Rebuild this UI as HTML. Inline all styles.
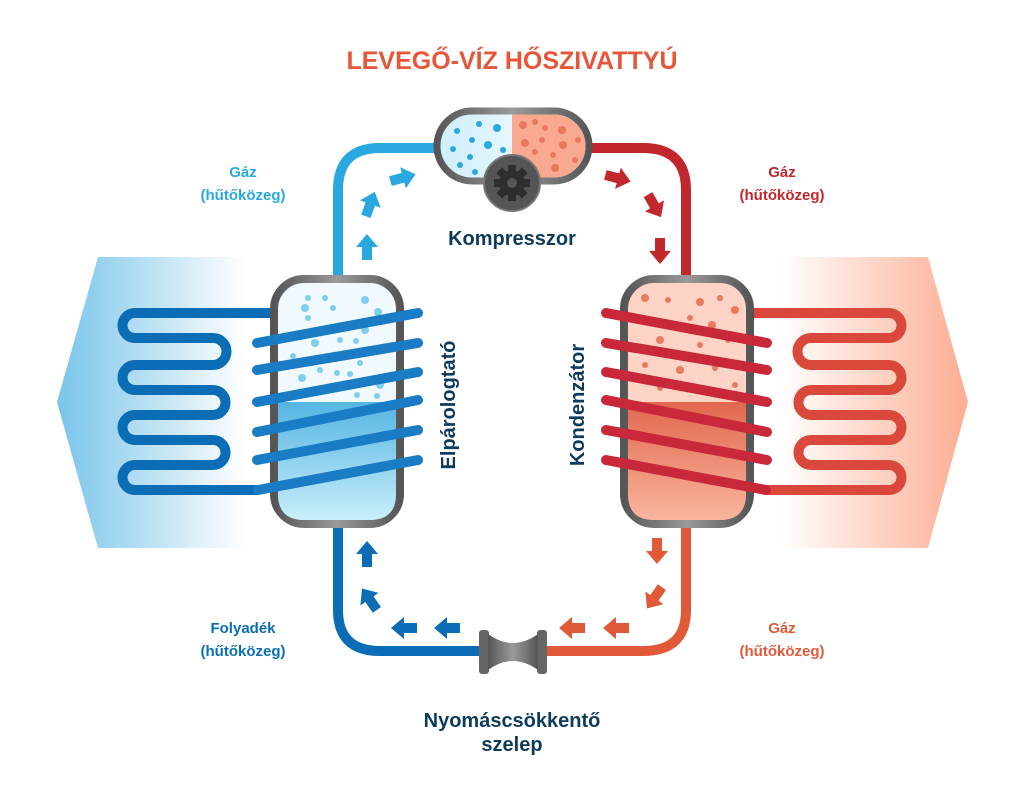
<!DOCTYPE html>
<html><head><meta charset="utf-8"><style>
html,body{margin:0;padding:0;background:#fff;}
svg{display:block;}
text{font-family:"Liberation Sans",sans-serif;font-weight:bold;}
</style></head><body>
<svg width="1024" height="805" viewBox="0 0 1024 805" xmlns="http://www.w3.org/2000/svg">
<defs>
<linearGradient id="lbg" x1="0" x2="1" y1="0" y2="0"><stop offset="0" stop-color="#79c4ea"/><stop offset="1" stop-color="#ffffff"/></linearGradient>
<linearGradient id="rbg" x1="0" x2="1" y1="0" y2="0"><stop offset="0" stop-color="#ffffff"/><stop offset="1" stop-color="#fbad92"/></linearGradient>
<linearGradient id="lw" x1="0" x2="0" y1="0" y2="1"><stop offset="0" stop-color="#55b5e2"/><stop offset="1" stop-color="#c9effb"/></linearGradient>
<linearGradient id="rw" x1="0" x2="0" y1="0" y2="1"><stop offset="0" stop-color="#e2674e"/><stop offset="1" stop-color="#f9b59e"/></linearGradient>
<linearGradient id="cl" x1="0" x2="1"><stop offset="0" stop-color="#cdeefa"/><stop offset="1" stop-color="#ffffff"/></linearGradient>
<linearGradient id="gr" x1="0" x2="1"><stop offset="0" stop-color="#555"/><stop offset="0.5" stop-color="#9a9a9a"/><stop offset="1" stop-color="#555"/></linearGradient>
<path id="ar" d="M-12,-5 L1,-5 L1,-11 L14,0 L1,11 L1,5 L-12,5 Z"/>
</defs>

<text x="512" y="69" text-anchor="middle" font-size="25" fill="#e8563a">LEVEGŐ-VÍZ HŐSZIVATTYÚ</text>

<polygon points="98,257 245,257 245,548 98,548 57,402" fill="url(#lbg)"/>
<polygon points="780,257 928,257 968,402 928,548 780,548" fill="url(#rbg)"/>

<path d="M338,280 L338,190 Q338,148 380,148 L440,148" fill="none" stroke="#29a8e0" stroke-width="10"/>
<path d="M586,148 L643,148 Q686,148 686,190 L686,280" fill="none" stroke="#c1272d" stroke-width="10"/>
<path d="M338,523 L338,610 Q338,651 380,651 L486,651" fill="none" stroke="#0a6db5" stroke-width="10"/>
<path d="M540,651 L643,651 Q686,651 686,610 L686,523" fill="none" stroke="#e05a3a" stroke-width="10"/>

<path d="M275,313 L135,313 A12.5,12.5 0 0 0 135,338 L213,338 A13.5,13.5 0 0 1 213,365 L135,365 A12.5,12.5 0 0 0 135,390 L213,390 A12.5,12.5 0 0 1 213,415 L135,415 A12.5,12.5 0 0 0 135,440 L213,440 A12.5,12.5 0 0 1 213,465 L135,465 A12.5,12.5 0 0 0 135,490 L258,490" fill="none" stroke="#0a6db5" stroke-width="10" stroke-linecap="round"/>
<path d="M749,313 L889,313 A12.5,12.5 0 0 1 889,338 L811,338 A13.5,13.5 0 0 0 811,365 L889,365 A12.5,12.5 0 0 1 889,390 L811,390 A12.5,12.5 0 0 0 811,415 L889,415 A12.5,12.5 0 0 1 889,440 L811,440 A12.5,12.5 0 0 0 811,465 L889,465 A12.5,12.5 0 0 1 889,490 L766,490" fill="none" stroke="#d9483a" stroke-width="10" stroke-linecap="round"/>

<rect x="274" y="279" width="126" height="245" rx="30" fill="#f0f9fd" stroke="url(#gr)" stroke-width="8"/>
<path d="M278,402 L396,402 L396,494 Q396,520 370,520 L304,520 Q278,520 278,494 Z" fill="url(#lw)"/>
<g fill="#7fcdef">
<circle cx="308" cy="298" r="3"/><circle cx="325" cy="298" r="3"/><circle cx="365" cy="300" r="4"/><circle cx="305" cy="308" r="4"/><circle cx="333" cy="308" r="3"/><circle cx="308" cy="318" r="3"/><circle cx="378" cy="312" r="4"/><circle cx="365" cy="330" r="4"/><circle cx="315" cy="343" r="4"/><circle cx="340" cy="340" r="3"/><circle cx="356" cy="341" r="3"/><circle cx="293" cy="356" r="3"/><circle cx="320" cy="370" r="3"/><circle cx="337" cy="373" r="3"/><circle cx="360" cy="363" r="3"/><circle cx="302" cy="378" r="4"/><circle cx="350" cy="374" r="3"/><circle cx="380" cy="385" r="4"/><circle cx="357" cy="395" r="3"/><circle cx="377" cy="396" r="3"/>
</g>
<g stroke="#1a7cc4" stroke-width="10" stroke-linecap="round">
<line x1="257" y1="343" x2="418" y2="313"/><line x1="257" y1="370" x2="418" y2="343"/><line x1="257" y1="402" x2="418" y2="372"/><line x1="257" y1="432" x2="418" y2="400"/><line x1="257" y1="460" x2="418" y2="430"/><line x1="258" y1="490" x2="418" y2="460"/>
</g>

<rect x="624" y="279" width="126" height="245" rx="30" fill="#fcd3c4" stroke="url(#gr)" stroke-width="8"/>
<path d="M628,402 L746,402 L746,494 Q746,520 720,520 L654,520 Q628,520 628,494 Z" fill="url(#rw)"/>
<g fill="#e87a62">
<circle cx="645" cy="298" r="4"/><circle cx="668" cy="300" r="3"/><circle cx="700" cy="302" r="4"/><circle cx="720" cy="298" r="3"/><circle cx="735" cy="310" r="4"/><circle cx="652" cy="320" r="3"/><circle cx="690" cy="318" r="3"/><circle cx="712" cy="325" r="4"/><circle cx="660" cy="340" r="4"/><circle cx="700" cy="345" r="3"/><circle cx="728" cy="340" r="3"/><circle cx="645" cy="365" r="3"/><circle cx="680" cy="370" r="4"/><circle cx="715" cy="368" r="3"/><circle cx="660" cy="388" r="3"/><circle cx="700" cy="390" r="4"/><circle cx="735" cy="385" r="3"/>
</g>
<g stroke="#c8283a" stroke-width="10" stroke-linecap="round">
<line x1="767" y1="343" x2="606" y2="313"/><line x1="767" y1="370" x2="606" y2="343"/><line x1="767" y1="402" x2="606" y2="372"/><line x1="767" y1="432" x2="606" y2="400"/><line x1="767" y1="460" x2="606" y2="430"/><line x1="766" y1="490" x2="606" y2="460"/>
</g>

<rect x="437" y="111" width="152" height="70" rx="35" fill="url(#cl)" stroke="url(#gr)" stroke-width="7"/>
<path d="M512,114.5 L554,114.5 A31.5,31.5 0 0 1 554,177.5 L512,177.5 Z" fill="#f9a98f"/>
<g fill="#29a8e0"><circle cx="457" cy="131" r="3"/><circle cx="479" cy="124" r="3"/><circle cx="497" cy="128" r="4"/><circle cx="472" cy="140" r="3"/><circle cx="488" cy="145" r="4"/><circle cx="453" cy="149" r="3"/><circle cx="503" cy="150" r="3"/><circle cx="470" cy="157" r="3"/><circle cx="460" cy="165" r="3"/><circle cx="475" cy="172" r="3"/></g>
<g fill="#e8785e"><circle cx="523" cy="125" r="4"/><circle cx="535" cy="122" r="3"/><circle cx="545" cy="128" r="3"/><circle cx="562" cy="130" r="4"/><circle cx="525" cy="143" r="4"/><circle cx="542" cy="140" r="3"/><circle cx="563" cy="145" r="4"/><circle cx="578" cy="140" r="3"/><circle cx="535" cy="152" r="3"/><circle cx="553" cy="155" r="3"/><circle cx="575" cy="160" r="3"/><circle cx="555" cy="168" r="4"/></g>
<circle cx="512" cy="183" r="28" fill="#555" stroke="#777" stroke-width="2"/>
<g fill="#2e2e2e" transform="translate(512,183)">
<circle r="13"/>
<rect x="-4" y="-18" width="8" height="36"/><rect x="-18" y="-4" width="36" height="8"/>
<rect x="-4" y="-18" width="8" height="36" transform="rotate(45)"/><rect x="-4" y="-18" width="8" height="36" transform="rotate(-45)"/>
<circle r="5" fill="#555"/>
</g>

<rect x="479" y="630" width="10" height="44" rx="3" fill="#666"/>
<rect x="537" y="630" width="10" height="44" rx="3" fill="#666"/>
<path d="M488,634 Q513,652 538,634 L538,670 Q513,652 488,670 Z" fill="url(#gr)"/>

<g fill="#29a8e0">
<use href="#ar" transform="translate(367,248) rotate(-90)"/>
<use href="#ar" transform="translate(370,205) rotate(-70)"/>
<use href="#ar" transform="translate(402,178) rotate(-15)"/>
</g>
<g fill="#0a6db5">
<use href="#ar" transform="translate(367,555) rotate(-90)"/>
<use href="#ar" transform="translate(370,600) rotate(-125)"/>
<use href="#ar" transform="translate(405,628) rotate(180)"/>
<use href="#ar" transform="translate(448,628) rotate(180)"/>
</g>
<g fill="#c1272d">
<use href="#ar" transform="translate(617,178) rotate(15)"/>
<use href="#ar" transform="translate(654,205) rotate(60)"/>
<use href="#ar" transform="translate(660,250) rotate(90)"/>
</g>
<g fill="#e05a3a">
<use href="#ar" transform="translate(657,550) rotate(90)"/>
<use href="#ar" transform="translate(655,597) rotate(125)"/>
<use href="#ar" transform="translate(617,628) rotate(180)"/>
<use href="#ar" transform="translate(573,628) rotate(180)"/>
</g>

<g font-size="15" text-anchor="middle">
<text x="243" y="177" fill="#29a8e0">Gáz</text><text x="243" y="200" fill="#29a8e0">(hűtőközeg)</text>
<text x="782" y="177" fill="#c1272d">Gáz</text><text x="782" y="200" fill="#c1272d">(hűtőközeg)</text>
<text x="243" y="633" fill="#0a6db5">Folyadék</text><text x="243" y="656" fill="#0a6db5">(hűtőközeg)</text>
<text x="782" y="633" fill="#e05a3a">Gáz</text><text x="782" y="656" fill="#e05a3a">(hűtőközeg)</text>
</g>
<g font-size="20" fill="#0d3b5c" text-anchor="middle">
<text x="512" y="245">Kompresszor</text>
<text x="512" y="727">Nyomáscsökkentő</text>
<text x="512" y="751">szelep</text>
<text transform="translate(455,405) rotate(-90)">Elpárologtató</text>
<text transform="translate(584,405) rotate(-90)">Kondenzátor</text>
</g>
</svg>
</body></html>
